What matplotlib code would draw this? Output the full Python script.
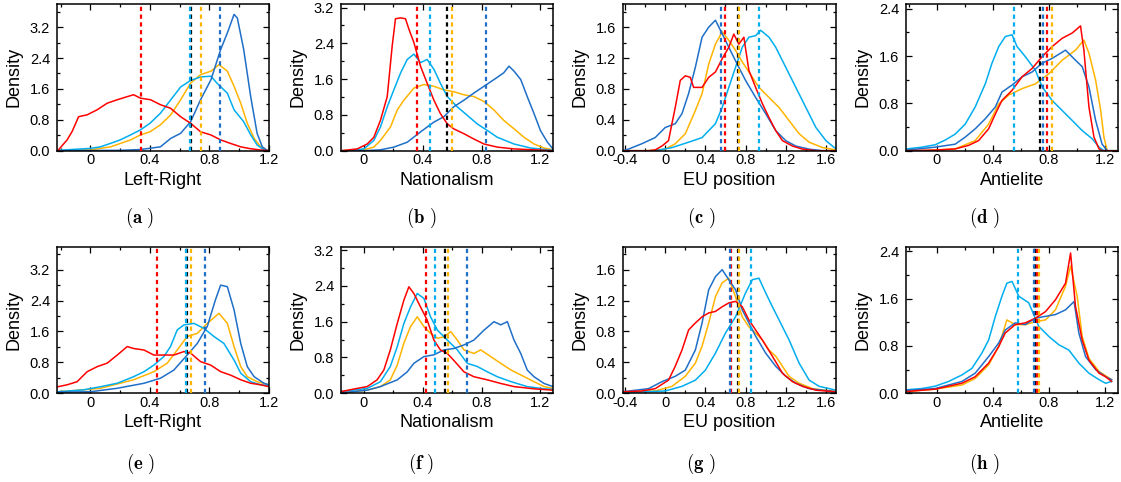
import matplotlib
matplotlib.use('Agg')
import matplotlib.pyplot as plt
from matplotlib.ticker import MultipleLocator, FuncFormatter

plt.rcParams['font.family'] = ['Liberation Sans', 'DejaVu Sans']
plt.rcParams['mathtext.fontset'] = 'cm'

RED = '#ff0000'
ORANGE = '#ffb400'
LBLUE = '#00aeef'
DBLUE = '#1f6fc8'

dimensions = ['Left-Right', 'Nationalism', 'EU position', 'Antielite']
panel_tags = ['a', 'b', 'c', 'd', 'e', 'f', 'g', 'h']

# ---- top row ----
a_red_x = [-0.22, -0.157, -0.123, -0.08, -0.022, 0.045, 0.112, 0.18, 0.247, 0.29, 0.336, 0.404, 0.471, 0.538, 0.606, 0.673, 0.74, 0.808, 0.875, 0.94, 1.01, 1.077, 1.14, 1.2]
a_red_y = [0.0, 0.28, 0.5, 0.88, 0.93, 1.06, 1.23, 1.32, 1.4, 1.45, 1.36, 1.32, 1.19, 1.1, 0.88, 0.71, 0.49, 0.41, 0.28, 0.19, 0.10, 0.05, 0.02, 0.0]
a_or_x = [-0.22, 0.0, 0.135, 0.27, 0.336, 0.4, 0.47, 0.54, 0.606, 0.673, 0.74, 0.81, 0.864, 0.92, 0.965, 1.01, 1.054, 1.1, 1.144, 1.18, 1.2]
a_or_y = [0.0, 0.02, 0.1, 0.28, 0.41, 0.49, 0.67, 0.93, 1.32, 1.75, 1.97, 2.06, 2.23, 2.06, 1.67, 1.23, 0.71, 0.32, 0.1, 0.02, 0.0]
a_lb_x = [-0.22, 0.0, 0.067, 0.135, 0.2, 0.27, 0.336, 0.4, 0.47, 0.54, 0.606, 0.673, 0.74, 0.81, 0.85, 0.92, 0.965, 1.03, 1.077, 1.12, 1.166, 1.2]
a_lb_y = [0.01, 0.06, 0.1, 0.19, 0.28, 0.41, 0.54, 0.71, 0.97, 1.32, 1.65, 1.82, 1.91, 1.93, 1.75, 1.49, 1.06, 0.75, 0.41, 0.15, 0.02, 0.0]
a_db_x = [-0.22, 0.2, 0.336, 0.47, 0.54, 0.606, 0.673, 0.74, 0.81, 0.875, 0.92, 0.965, 0.987, 1.03, 1.077, 1.12, 1.155, 1.19, 1.2]
a_db_y = [0.0, 0.01, 0.03, 0.1, 0.32, 0.45, 0.75, 1.32, 1.84, 2.62, 3.05, 3.53, 3.44, 2.62, 1.4, 0.45, 0.1, 0.0, 0.0]
a_means = {'black': 0.675, 'red': 0.34, 'orange': 0.74, 'dblue': 0.87, 'lblue': 0.67}

b_red_x = [-0.152, -0.045, 0.023, 0.068, 0.113, 0.159, 0.193, 0.215, 0.25, 0.283, 0.306, 0.34, 0.385, 0.43, 0.476, 0.52, 0.567, 0.61, 0.68, 0.748, 0.816, 0.907, 1.02, 1.156, 1.285]
b_red_y = [0.0, 0.04, 0.15, 0.3, 0.68, 1.21, 2.35, 2.95, 2.97, 2.95, 2.72, 2.42, 1.89, 1.51, 1.13, 0.83, 0.6, 0.49, 0.38, 0.26, 0.15, 0.08, 0.04, 0.02, 0.0]
b_or_x = [-0.152, 0.0, 0.068, 0.113, 0.181, 0.227, 0.272, 0.34, 0.408, 0.476, 0.544, 0.61, 0.68, 0.748, 0.816, 0.884, 0.95, 1.02, 1.088, 1.156, 1.224, 1.285]
b_or_y = [0.0, 0.02, 0.08, 0.23, 0.53, 0.91, 1.13, 1.4, 1.48, 1.44, 1.36, 1.32, 1.25, 1.21, 1.1, 0.91, 0.68, 0.49, 0.3, 0.15, 0.06, 0.02]
b_lb_x = [-0.152, -0.113, 0.0, 0.068, 0.113, 0.159, 0.204, 0.25, 0.295, 0.34, 0.385, 0.43, 0.476, 0.52, 0.567, 0.635, 0.703, 0.77, 0.84, 0.907, 1.02, 1.134, 1.247, 1.285]
b_lb_y = [0.0, 0.0, 0.04, 0.23, 0.53, 0.98, 1.36, 1.74, 2.04, 2.16, 1.97, 2.04, 1.82, 1.51, 1.21, 0.98, 0.79, 0.6, 0.45, 0.3, 0.15, 0.06, 0.02, 0.01]
b_db_x = [-0.152, 0.0, 0.113, 0.204, 0.295, 0.385, 0.476, 0.544, 0.61, 0.68, 0.748, 0.816, 0.884, 0.95, 0.986, 1.02, 1.066, 1.11, 1.156, 1.2, 1.247, 1.285]
b_db_y = [0.0, 0.0, 0.02, 0.08, 0.19, 0.42, 0.64, 0.76, 0.98, 1.13, 1.29, 1.44, 1.59, 1.74, 1.89, 1.78, 1.59, 1.21, 0.83, 0.45, 0.19, 0.04]
b_means = {'black': 0.565, 'red': 0.358, 'orange': 0.599, 'dblue': 0.829, 'lblue': 0.449}

c_red_x = [-0.42, -0.167, -0.1, -0.033, 0.033, 0.067, 0.1, 0.15, 0.2, 0.25, 0.283, 0.367, 0.433, 0.5, 0.567, 0.633, 0.683, 0.733, 0.783, 0.833, 0.9, 0.967, 1.033, 1.1, 1.167, 1.267, 1.367, 1.5, 1.7]
c_red_y = [0.0, 0.0, 0.01, 0.06, 0.13, 0.35, 0.56, 0.91, 0.97, 0.95, 0.82, 0.82, 0.95, 1.02, 1.19, 1.34, 1.51, 1.38, 1.47, 1.04, 0.82, 0.61, 0.43, 0.26, 0.13, 0.06, 0.02, 0.0, 0.0]
c_or_x = [-0.42, -0.167, 0.0, 0.1, 0.2, 0.3, 0.367, 0.433, 0.5, 0.567, 0.633, 0.7, 0.767, 0.833, 0.933, 1.033, 1.133, 1.233, 1.333, 1.433, 1.567, 1.7]
c_or_y = [0.0, 0.0, 0.02, 0.09, 0.22, 0.52, 0.74, 1.12, 1.38, 1.54, 1.43, 1.3, 1.15, 1.02, 0.82, 0.69, 0.56, 0.39, 0.22, 0.11, 0.04, 0.01]
c_lb_x = [-0.42, -0.1, 0.067, 0.233, 0.367, 0.5, 0.567, 0.633, 0.7, 0.767, 0.833, 0.9, 0.95, 1.033, 1.1, 1.2, 1.3, 1.4, 1.5, 1.6, 1.683, 1.7]
c_lb_y = [0.0, 0.0, 0.04, 0.11, 0.17, 0.35, 0.56, 0.82, 1.08, 1.34, 1.47, 1.49, 1.56, 1.47, 1.34, 1.08, 0.82, 0.56, 0.3, 0.13, 0.04, 0.03]
c_db_x = [-0.42, -0.367, -0.233, -0.1, 0.0, 0.1, 0.167, 0.233, 0.3, 0.367, 0.433, 0.5, 0.55, 0.633, 0.717, 0.8, 0.9, 1.0, 1.1, 1.2, 1.3, 1.433, 1.567, 1.7]
c_db_y = [0.0, 0.02, 0.09, 0.17, 0.3, 0.35, 0.48, 0.74, 1.08, 1.47, 1.6, 1.69, 1.56, 1.34, 1.12, 0.91, 0.69, 0.48, 0.26, 0.13, 0.06, 0.02, 0.0, 0.0]
c_means = {'black': 0.72, 'red': 0.60, 'orange': 0.737, 'dblue': 0.557, 'lblue': 0.933}

d_red_x = [-0.215, -0.012, 0.131, 0.227, 0.298, 0.37, 0.418, 0.465, 0.537, 0.609, 0.68, 0.752, 0.823, 0.895, 0.967, 1.026, 1.05, 1.086, 1.122, 1.158, 1.18, 1.28]
d_red_y = [0.0, 0.01, 0.03, 0.09, 0.17, 0.37, 0.62, 0.85, 1.02, 1.25, 1.39, 1.59, 1.76, 1.9, 1.99, 2.11, 1.7, 0.74, 0.23, 0.03, 0.0, 0.0]
d_or_x = [-0.215, -0.107, 0.131, 0.274, 0.37, 0.442, 0.513, 0.609, 0.704, 0.8, 0.895, 0.99, 1.05, 1.086, 1.134, 1.17, 1.193, 1.217, 1.28]
d_or_y = [0.0, 0.0, 0.03, 0.17, 0.45, 0.79, 0.94, 1.05, 1.13, 1.3, 1.53, 1.7, 1.87, 1.65, 1.19, 0.68, 0.23, 0.0, 0.0]
d_lb_x = [-0.215, -0.107, -0.012, 0.06, 0.131, 0.203, 0.274, 0.346, 0.394, 0.442, 0.489, 0.537, 0.573, 0.632, 0.704, 0.752, 0.823, 0.895, 0.967, 1.038, 1.11, 1.158, 1.193, 1.28]
d_lb_y = [0.03, 0.06, 0.1, 0.18, 0.28, 0.45, 0.74, 1.13, 1.48, 1.76, 1.93, 1.96, 1.76, 1.59, 1.36, 1.08, 0.85, 0.68, 0.51, 0.34, 0.2, 0.06, 0.0, 0.0]
d_db_x = [-0.215, -0.012, 0.131, 0.203, 0.274, 0.346, 0.418, 0.465, 0.537, 0.609, 0.68, 0.752, 0.823, 0.919, 0.99, 1.038, 1.086, 1.134, 1.18, 1.217, 1.28]
d_db_y = [0.01, 0.06, 0.11, 0.23, 0.37, 0.54, 0.74, 0.99, 1.11, 1.25, 1.33, 1.48, 1.56, 1.7, 1.53, 1.42, 1.08, 0.51, 0.11, 0.0, 0.0]
d_means = {'black': 0.74, 'red': 0.787, 'orange': 0.823, 'dblue': 0.756, 'lblue': 0.553}

# ---- bottom row ----
e_red_x = [-0.22, -0.157, -0.09, -0.022, 0.045, 0.112, 0.18, 0.247, 0.29, 0.36, 0.426, 0.493, 0.56, 0.628, 0.673, 0.74, 0.808, 0.875, 0.942, 1.01, 1.077, 1.144, 1.2]
e_red_y = [0.17, 0.22, 0.3, 0.56, 0.69, 0.78, 0.99, 1.21, 1.16, 1.12, 0.99, 0.99, 0.99, 1.08, 1.04, 0.82, 0.73, 0.56, 0.47, 0.35, 0.26, 0.22, 0.17]
e_or_x = [-0.22, -0.045, 0.067, 0.29, 0.426, 0.516, 0.583, 0.65, 0.718, 0.785, 0.864, 0.92, 0.965, 1.01, 1.054, 1.12, 1.2]
e_or_y = [0.04, 0.09, 0.13, 0.35, 0.56, 0.78, 1.12, 1.47, 1.55, 1.81, 2.07, 1.81, 1.21, 0.69, 0.43, 0.3, 0.22]
e_lb_x = [-0.22, -0.045, 0.067, 0.18, 0.29, 0.36, 0.426, 0.493, 0.538, 0.583, 0.628, 0.695, 0.763, 0.83, 0.897, 0.965, 1.01, 1.077, 1.144, 1.2]
e_lb_y = [0.04, 0.09, 0.17, 0.26, 0.43, 0.56, 0.73, 0.95, 1.21, 1.64, 1.77, 1.81, 1.68, 1.47, 1.29, 0.86, 0.52, 0.3, 0.22, 0.2]
e_db_x = [-0.22, 0.0, 0.18, 0.36, 0.47, 0.56, 0.65, 0.718, 0.785, 0.84, 0.875, 0.92, 0.965, 1.01, 1.054, 1.1, 1.166, 1.2]
e_db_y = [0.03, 0.04, 0.13, 0.26, 0.39, 0.6, 0.99, 1.29, 1.73, 2.42, 2.8, 2.76, 2.16, 1.29, 0.69, 0.43, 0.26, 0.22]
e_means = {'black': 0.648, 'red': 0.444, 'orange': 0.678, 'dblue': 0.769, 'lblue': 0.644}

f_red_x = [-0.152, -0.045, 0.023, 0.09, 0.136, 0.18, 0.227, 0.272, 0.306, 0.34, 0.385, 0.43, 0.476, 0.52, 0.567, 0.61, 0.68, 0.748, 0.839, 0.93, 1.02, 1.156, 1.285]
f_red_y = [0.04, 0.11, 0.15, 0.3, 0.52, 0.97, 1.56, 2.08, 2.38, 2.23, 1.93, 1.64, 1.19, 0.97, 0.89, 0.74, 0.48, 0.37, 0.3, 0.22, 0.15, 0.1, 0.07]
f_or_x = [-0.152, 0.023, 0.113, 0.18, 0.227, 0.272, 0.317, 0.363, 0.408, 0.453, 0.5, 0.544, 0.59, 0.635, 0.68, 0.748, 0.794, 0.862, 0.93, 1.0, 1.066, 1.156, 1.224, 1.285]
f_or_y = [0.01, 0.07, 0.15, 0.3, 0.63, 1.12, 1.49, 1.71, 1.49, 1.34, 1.23, 1.26, 1.38, 1.19, 0.97, 0.89, 0.97, 0.82, 0.67, 0.52, 0.41, 0.26, 0.15, 0.11]
f_lb_x = [-0.152, 0.023, 0.113, 0.18, 0.227, 0.272, 0.317, 0.363, 0.408, 0.453, 0.5, 0.567, 0.635, 0.703, 0.77, 0.839, 0.907, 1.0, 1.11, 1.224, 1.285]
f_lb_y = [0.04, 0.11, 0.26, 0.6, 1.04, 1.56, 1.93, 2.23, 2.12, 1.71, 1.41, 1.19, 0.97, 0.67, 0.6, 0.48, 0.37, 0.26, 0.15, 0.1, 0.09]
f_db_x = [-0.152, 0.023, 0.113, 0.227, 0.295, 0.34, 0.408, 0.476, 0.544, 0.61, 0.68, 0.748, 0.816, 0.884, 0.93, 0.975, 1.02, 1.066, 1.11, 1.156, 1.224, 1.285]
f_db_y = [0.01, 0.07, 0.15, 0.3, 0.48, 0.67, 0.82, 0.86, 0.97, 1.0, 1.08, 1.19, 1.41, 1.6, 1.53, 1.6, 1.19, 0.89, 0.52, 0.37, 0.22, 0.15]
f_means = {'black': 0.554, 'red': 0.424, 'orange': 0.571, 'dblue': 0.70, 'lblue': 0.483}

g_red_x = [-0.42, -0.233, -0.1, 0.033, 0.1, 0.167, 0.233, 0.3, 0.367, 0.433, 0.5, 0.567, 0.633, 0.7, 0.767, 0.833, 0.9, 0.967, 1.067, 1.167, 1.267, 1.367, 1.5, 1.7]
g_red_y = [0.02, 0.03, 0.06, 0.17, 0.35, 0.56, 0.82, 0.91, 0.99, 1.04, 1.06, 1.12, 1.17, 1.19, 1.12, 0.95, 0.82, 0.69, 0.48, 0.26, 0.15, 0.09, 0.04, 0.02]
g_or_x = [-0.42, -0.1, 0.067, 0.2, 0.3, 0.367, 0.433, 0.5, 0.567, 0.633, 0.7, 0.767, 0.833, 0.9, 0.967, 1.033, 1.1, 1.167, 1.233, 1.333, 1.467, 1.7]
g_or_y = [0.01, 0.03, 0.09, 0.22, 0.39, 0.61, 0.91, 1.25, 1.43, 1.49, 1.25, 0.99, 0.86, 0.78, 0.69, 0.56, 0.48, 0.35, 0.22, 0.13, 0.06, 0.02]
g_lb_x = [-0.42, 0.0, 0.167, 0.3, 0.4, 0.5, 0.6, 0.7, 0.8, 0.867, 0.933, 1.0, 1.067, 1.133, 1.233, 1.333, 1.433, 1.533, 1.7]
g_lb_y = [0.01, 0.03, 0.09, 0.17, 0.3, 0.52, 0.78, 0.99, 1.3, 1.47, 1.49, 1.3, 1.12, 0.95, 0.69, 0.39, 0.17, 0.09, 0.04]
g_db_x = [-0.42, -0.167, -0.033, 0.1, 0.2, 0.3, 0.367, 0.433, 0.5, 0.567, 0.633, 0.7, 0.767, 0.833, 0.9, 1.0, 1.1, 1.2, 1.3, 1.433, 1.7]
g_db_y = [0.02, 0.06, 0.15, 0.22, 0.3, 0.56, 0.91, 1.34, 1.51, 1.6, 1.47, 1.34, 1.08, 0.91, 0.74, 0.52, 0.35, 0.22, 0.13, 0.06, 0.02]
g_means = {'black': 0.723, 'red': 0.655, 'orange': 0.737, 'dblue': 0.64, 'lblue': 0.85}

h_red_x = [-0.215, -0.012, 0.179, 0.274, 0.37, 0.442, 0.489, 0.56, 0.632, 0.704, 0.776, 0.847, 0.919, 0.955, 0.99, 1.038, 1.086, 1.158, 1.205, 1.248]
h_red_y = [0.03, 0.07, 0.17, 0.28, 0.51, 0.79, 1.02, 1.16, 1.19, 1.27, 1.38, 1.58, 1.86, 2.37, 1.47, 0.9, 0.56, 0.34, 0.28, 0.2]
h_or_x = [-0.215, -0.012, 0.179, 0.274, 0.37, 0.442, 0.5, 0.56, 0.632, 0.704, 0.776, 0.847, 0.919, 0.955, 1.002, 1.038, 1.086, 1.158, 1.248]
h_or_y = [0.03, 0.07, 0.14, 0.25, 0.48, 0.79, 1.24, 1.16, 1.16, 1.21, 1.24, 1.41, 1.81, 2.15, 1.64, 0.96, 0.59, 0.37, 0.23]
h_lb_x = [-0.215, -0.107, -0.012, 0.084, 0.179, 0.25, 0.322, 0.37, 0.418, 0.465, 0.5, 0.537, 0.585, 0.656, 0.728, 0.8, 0.871, 0.943, 1.014, 1.086, 1.158, 1.205, 1.248]
h_lb_y = [0.06, 0.08, 0.12, 0.2, 0.31, 0.42, 0.68, 0.9, 1.3, 1.64, 1.86, 1.89, 1.64, 1.53, 1.13, 0.96, 0.82, 0.73, 0.51, 0.34, 0.23, 0.17, 0.2]
h_db_x = [-0.215, -0.012, 0.179, 0.274, 0.37, 0.442, 0.489, 0.56, 0.632, 0.704, 0.776, 0.847, 0.919, 0.98, 1.014, 1.062, 1.134, 1.205, 1.248]
h_db_y = [0.05, 0.08, 0.2, 0.34, 0.62, 0.85, 1.07, 1.19, 1.16, 1.27, 1.3, 1.33, 1.41, 1.55, 1.02, 0.62, 0.4, 0.28, 0.23]
h_means = {'black': 0.70, 'red': 0.718, 'orange': 0.73, 'dblue': 0.694, 'lblue': 0.582}

panels = [
    (a_or_x, a_or_y, a_lb_x, a_lb_y, a_db_x, a_db_y, a_red_x, a_red_y, a_means),
    (b_or_x, b_or_y, b_lb_x, b_lb_y, b_db_x, b_db_y, b_red_x, b_red_y, b_means),
    (c_or_x, c_or_y, c_lb_x, c_lb_y, c_db_x, c_db_y, c_red_x, c_red_y, c_means),
    (d_or_x, d_or_y, d_lb_x, d_lb_y, d_db_x, d_db_y, d_red_x, d_red_y, d_means),
    (e_or_x, e_or_y, e_lb_x, e_lb_y, e_db_x, e_db_y, e_red_x, e_red_y, e_means),
    (f_or_x, f_or_y, f_lb_x, f_lb_y, f_db_x, f_db_y, f_red_x, f_red_y, f_means),
    (g_or_x, g_or_y, g_lb_x, g_lb_y, g_db_x, g_db_y, g_red_x, g_red_y, g_means),
    (h_or_x, h_or_y, h_lb_x, h_lb_y, h_db_x, h_db_y, h_red_x, h_red_y, h_means),
]

# per-column axis setup
xlims = [(-0.225, 1.2), (-0.155, 1.285), (-0.42, 1.7), (-0.22, 1.29)]
ytops = [3.8, 3.28, 1.9, 2.48]
ymajor = [0.8, 0.8, 0.4, 0.8]
yminor = [0.4, 0.4, 0.2, 0.4]

mean_colors = {'black': 'black', 'red': RED, 'orange': ORANGE, 'dblue': DBLUE, 'lblue': LBLUE}

W, H = 1121, 482
col_px = [(57, 269), (341, 553), (623, 836), (906, 1117.5)]
row_px = [(4, 150.7), (246.5, 393.3)]
tag_x = [140, 421, 701, 984]
tag_y = [218, 464]


def xfmt(v, pos):
    if abs(v) < 1e-9:
        return '0'
    return '%.1f' % v


fig = plt.figure(figsize=(W / 100, H / 100), dpi=100)

for k, p in enumerate(panels):
    row, col = divmod(k, 4)
    l, r = col_px[col]
    t, b = row_px[row]
    ax = fig.add_axes([l / W, 1 - b / H, (r - l) / W, (b - t) / H])

    ox, oy, lx, ly, dx, dy, rx, ry, means = p
    ax.plot(ox, oy, color=ORANGE, lw=1.1, zorder=2)
    ax.plot(lx, ly, color=LBLUE, lw=1.1, zorder=2)
    ax.plot(dx, dy, color=DBLUE, lw=1.1, zorder=2)
    ax.plot(rx, ry, color=RED, lw=1.1, zorder=2)

    for name in ['black', 'red', 'orange', 'dblue', 'lblue']:
        ax.axvline(means[name], color=mean_colors[name], lw=1.6,
                   ls=(0, (1.9, 1.6)), zorder=3)

    ax.set_xlim(*xlims[col])
    ax.set_ylim(0, ytops[col])
    ax.xaxis.set_major_locator(MultipleLocator(0.4))
    ax.xaxis.set_minor_locator(MultipleLocator(0.2))
    ax.yaxis.set_major_locator(MultipleLocator(ymajor[col]))
    ax.yaxis.set_minor_locator(MultipleLocator(yminor[col]))
    ax.xaxis.set_major_formatter(FuncFormatter(xfmt))
    ax.yaxis.set_major_formatter(FuncFormatter(lambda v, pos: '%.1f' % v))
    ax.tick_params(which='both', direction='in', top=True, right=True,
                   width=0.9, labelsize=10.5)
    ax.tick_params(which='major', length=4.5)
    ax.tick_params(which='minor', length=2.5)
    ax.tick_params(axis='x', pad=2)
    ax.tick_params(axis='y', pad=5)
    for s in ax.spines.values():
        s.set_linewidth(1.1)

    ax.set_xlabel(dimensions[col], fontsize=13, labelpad=3)
    ax.set_ylabel('Density', fontsize=13, labelpad=5)

    fig.text(tag_x[col] / W, 1 - tag_y[row] / H,
             r'$\mathbf{(%s\ )}$' % panel_tags[k],
             ha='center', va='center', fontsize=13.5)

fig.savefig('out.png', dpi=100)
